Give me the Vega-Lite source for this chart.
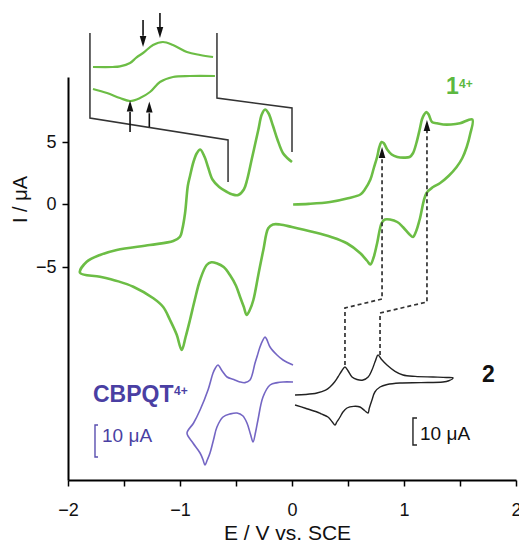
{
"$schema": "https://vega.github.io/schema/vega-lite/v6.json",
"width": 448, "height": 403,
"autosize": {"type": "none"},
"padding": {"left": 68, "top": 77, "right": 3, "bottom": 64},
"background": "white",
"config": {"view": {"stroke": null}, "font": "Liberation Sans"},
"datasets": {
"curves": [
{"s":"main","o":1,"E":0.0,"I":3.4},{"s":"main","o":2,"E":-0.04,"I":3.7},{"s":"main","o":3,"E":-0.08,"I":4.1},{"s":"main","o":4,"E":-0.13,"I":5.2},{"s":"main","o":5,"E":-0.17,"I":6.3},{"s":"main","o":6,"E":-0.21,"I":7.3},{"s":"main","o":7,"E":-0.24,"I":7.6},{"s":"main","o":8,"E":-0.27,"I":7.2},{"s":"main","o":9,"E":-0.30,"I":6.0},{"s":"main","o":10,"E":-0.33,"I":4.8},{"s":"main","o":11,"E":-0.36,"I":3.6},{"s":"main","o":12,"E":-0.40,"I":2.0},{"s":"main","o":13,"E":-0.43,"I":1.2},{"s":"main","o":14,"E":-0.48,"I":0.76},{"s":"main","o":15,"E":-0.53,"I":0.8},{"s":"main","o":16,"E":-0.58,"I":1.0},{"s":"main","o":17,"E":-0.65,"I":1.4},{"s":"main","o":18,"E":-0.71,"I":2.0},{"s":"main","o":19,"E":-0.75,"I":3.0},{"s":"main","o":20,"E":-0.78,"I":3.8},{"s":"main","o":21,"E":-0.82,"I":4.4},{"s":"main","o":22,"E":-0.85,"I":4.1},{"s":"main","o":23,"E":-0.88,"I":3.4},{"s":"main","o":24,"E":-0.91,"I":2.3},{"s":"main","o":25,"E":-0.93,"I":1.5},{"s":"main","o":26,"E":-0.955,"I":-0.7},{"s":"main","o":27,"E":-0.98,"I":-2.0},{"s":"main","o":28,"E":-1.0,"I":-2.58},{"s":"main","o":29,"E":-1.06,"I":-2.92},{"s":"main","o":30,"E":-1.27,"I":-3.24},{"s":"main","o":31,"E":-1.565,"I":-3.64},{"s":"main","o":32,"E":-1.714,"I":-4.04},{"s":"main","o":33,"E":-1.833,"I":-4.58},{"s":"main","o":34,"E":-1.893,"I":-5.46},{"s":"main","o":35,"E":-1.714,"I":-5.78},{"s":"main","o":36,"E":-1.55,"I":-6.15},{"s":"main","o":37,"E":-1.417,"I":-6.58},{"s":"main","o":38,"E":-1.238,"I":-7.5},{"s":"main","o":39,"E":-1.15,"I":-8.2},{"s":"main","o":40,"E":-1.089,"I":-9.24},{"s":"main","o":41,"E":-1.03,"I":-10.4},{"s":"main","o":42,"E":-0.985,"I":-11.64},{"s":"main","o":43,"E":-0.95,"I":-10.6},{"s":"main","o":44,"E":-0.911,"I":-9.24},{"s":"main","o":45,"E":-0.87,"I":-7.7},{"s":"main","o":46,"E":-0.821,"I":-6.04},{"s":"main","o":47,"E":-0.762,"I":-4.84},{"s":"main","o":48,"E":-0.72,"I":-4.62},{"s":"main","o":49,"E":-0.673,"I":-4.7},{"s":"main","o":50,"E":-0.61,"I":-5.0},{"s":"main","o":51,"E":-0.554,"I":-5.64},{"s":"main","o":52,"E":-0.50,"I":-6.5},{"s":"main","o":53,"E":-0.464,"I":-7.38},{"s":"main","o":54,"E":-0.43,"I":-8.2},{"s":"main","o":55,"E":-0.405,"I":-8.84},{"s":"main","o":56,"E":-0.375,"I":-8.4},{"s":"main","o":57,"E":-0.345,"I":-7.64},{"s":"main","o":58,"E":-0.30,"I":-5.6},{"s":"main","o":59,"E":-0.256,"I":-3.64},{"s":"main","o":60,"E":-0.212,"I":-1.9},{"s":"main","o":61,"E":-0.17,"I":-1.6},{"s":"main","o":62,"E":-0.107,"I":-1.6},{"s":"main","o":63,"E":0.0,"I":-1.8},{"s":"main","o":64,"E":0.19,"I":-2.2},{"s":"main","o":65,"E":0.35,"I":-2.6},{"s":"main","o":66,"E":0.49,"I":-3.1},{"s":"main","o":67,"E":0.61,"I":-3.9},{"s":"main","o":68,"E":0.67,"I":-4.5},{"s":"main","o":69,"E":0.70,"I":-4.8},{"s":"main","o":70,"E":0.73,"I":-4.2},{"s":"main","o":71,"E":0.76,"I":-3.1},{"s":"main","o":72,"E":0.80,"I":-1.5},{"s":"main","o":73,"E":0.83,"I":-1.2},{"s":"main","o":74,"E":0.875,"I":-1.2},{"s":"main","o":75,"E":0.94,"I":-1.4},{"s":"main","o":76,"E":0.99,"I":-1.8},{"s":"main","o":77,"E":1.05,"I":-2.4},{"s":"main","o":78,"E":1.08,"I":-2.6},{"s":"main","o":79,"E":1.11,"I":-2.1},{"s":"main","o":80,"E":1.14,"I":-1.2},{"s":"main","o":81,"E":1.20,"I":0.9},{"s":"main","o":82,"E":1.26,"I":1.4},{"s":"main","o":83,"E":1.32,"I":1.7},{"s":"main","o":84,"E":1.40,"I":2.3},{"s":"main","o":85,"E":1.47,"I":3.0},{"s":"main","o":86,"E":1.52,"I":3.7},{"s":"main","o":87,"E":1.56,"I":4.6},{"s":"main","o":88,"E":1.59,"I":5.6},{"s":"main","o":89,"E":1.61,"I":6.8},{"s":"main","o":90,"E":1.50,"I":6.5},{"s":"main","o":91,"E":1.42,"I":6.4},{"s":"main","o":92,"E":1.35,"I":6.4},{"s":"main","o":93,"E":1.29,"I":6.5},{"s":"main","o":94,"E":1.25,"I":6.6},{"s":"main","o":95,"E":1.22,"I":7.2},{"s":"main","o":96,"E":1.20,"I":7.4},{"s":"main","o":97,"E":1.18,"I":7.2},{"s":"main","o":98,"E":1.16,"I":6.8},{"s":"main","o":99,"E":1.14,"I":6.0},{"s":"main","o":100,"E":1.11,"I":4.9},{"s":"main","o":101,"E":1.08,"I":4.1},{"s":"main","o":102,"E":1.05,"I":3.8},{"s":"main","o":103,"E":1.00,"I":3.75},{"s":"main","o":104,"E":0.94,"I":3.8},{"s":"main","o":105,"E":0.89,"I":4.0},{"s":"main","o":106,"E":0.85,"I":4.4},{"s":"main","o":107,"E":0.82,"I":4.9},{"s":"main","o":108,"E":0.80,"I":5.0},{"s":"main","o":109,"E":0.78,"I":4.6},{"s":"main","o":110,"E":0.76,"I":3.8},{"s":"main","o":111,"E":0.73,"I":2.9},{"s":"main","o":112,"E":0.70,"I":2.0},{"s":"main","o":113,"E":0.65,"I":1.2},{"s":"main","o":114,"E":0.61,"I":0.8},{"s":"main","o":115,"E":0.50,"I":0.5},{"s":"main","o":116,"E":0.34,"I":0.2},{"s":"main","o":117,"E":0.15,"I":0.05},{"s":"main","o":118,"E":0.01,"I":0.0},
{"s":"inU","o":1,"E":-1.777,"I":11.0},{"s":"inU","o":2,"E":-1.60,"I":11.0},{"s":"inU","o":3,"E":-1.536,"I":11.05},{"s":"inU","o":4,"E":-1.446,"I":11.32},{"s":"inU","o":5,"E":-1.39,"I":11.75},{"s":"inU","o":6,"E":-1.33,"I":12.12},{"s":"inU","o":7,"E":-1.241,"I":12.76},{"s":"inU","o":8,"E":-1.152,"I":13.0},{"s":"inU","o":9,"E":-1.063,"I":12.76},{"s":"inU","o":10,"E":-0.938,"I":12.2},{"s":"inU","o":11,"E":-0.821,"I":11.96},{"s":"inU","o":12,"E":-0.705,"I":11.8},
{"s":"inL","o":1,"E":-1.777,"I":9.24},{"s":"inL","o":2,"E":-1.652,"I":8.92},{"s":"inL","o":3,"E":-1.536,"I":8.52},{"s":"inL","o":4,"E":-1.446,"I":8.28},{"s":"inL","o":5,"E":-1.357,"I":8.52},{"s":"inL","o":6,"E":-1.268,"I":9.0},{"s":"inL","o":7,"E":-1.179,"I":9.8},{"s":"inL","o":8,"E":-1.063,"I":10.2},{"s":"inL","o":9,"E":-0.911,"I":10.28},{"s":"inL","o":10,"E":-0.688,"I":10.28},
{"s":"cb","o":1,"E":0.009,"I":-12.84},{"s":"cb","o":2,"E":-0.08,"I":-12.44},{"s":"cb","o":3,"E":-0.134,"I":-12.04},{"s":"cb","o":4,"E":-0.196,"I":-11.4},{"s":"cb","o":5,"E":-0.225,"I":-10.8},{"s":"cb","o":6,"E":-0.241,"I":-10.6},{"s":"cb","o":7,"E":-0.26,"I":-10.85},{"s":"cb","o":8,"E":-0.286,"I":-11.4},{"s":"cb","o":9,"E":-0.31,"I":-12.1},{"s":"cb","o":10,"E":-0.33,"I":-12.68},{"s":"cb","o":11,"E":-0.375,"I":-14.04},{"s":"cb","o":12,"E":-0.42,"I":-14.25},{"s":"cb","o":13,"E":-0.464,"I":-14.2},{"s":"cb","o":14,"E":-0.52,"I":-14.0},{"s":"cb","o":15,"E":-0.58,"I":-13.8},{"s":"cb","o":16,"E":-0.625,"I":-13.3},{"s":"cb","o":17,"E":-0.661,"I":-12.84},{"s":"cb","o":18,"E":-0.685,"I":-13.1},{"s":"cb","o":19,"E":-0.705,"I":-13.48},{"s":"cb","o":20,"E":-0.75,"I":-14.84},{"s":"cb","o":21,"E":-0.821,"I":-16.44},{"s":"cb","o":22,"E":-0.88,"I":-17.5},{"s":"cb","o":23,"E":-0.9375,"I":-18.28},{"s":"cb","o":24,"E":-0.884,"I":-19.08},{"s":"cb","o":25,"E":-0.821,"I":-19.88},{"s":"cb","o":26,"E":-0.795,"I":-20.4},{"s":"cb","o":27,"E":-0.777,"I":-20.84},{"s":"cb","o":28,"E":-0.755,"I":-20.4},{"s":"cb","o":29,"E":-0.732,"I":-19.88},{"s":"cb","o":30,"E":-0.70,"I":-18.8},{"s":"cb","o":31,"E":-0.67,"I":-17.8},{"s":"cb","o":32,"E":-0.616,"I":-17.0},{"s":"cb","o":33,"E":-0.55,"I":-16.75},{"s":"cb","o":34,"E":-0.491,"I":-16.68},{"s":"cb","o":35,"E":-0.44,"I":-16.9},{"s":"cb","o":36,"E":-0.402,"I":-17.48},{"s":"cb","o":37,"E":-0.37,"I":-18.4},{"s":"cb","o":38,"E":-0.348,"I":-19.0},{"s":"cb","o":39,"E":-0.325,"I":-18.2},{"s":"cb","o":40,"E":-0.304,"I":-17.24},{"s":"cb","o":41,"E":-0.259,"I":-15.4},{"s":"cb","o":42,"E":-0.196,"I":-14.44},{"s":"cb","o":43,"E":-0.13,"I":-14.25},{"s":"cb","o":44,"E":-0.08,"I":-14.2},{"s":"cb","o":45,"E":0.009,"I":-14.2},
{"s":"c2","o":1,"E":0.027,"I":-15.24},{"s":"c2","o":2,"E":0.12,"I":-15.2},{"s":"c2","o":3,"E":0.223,"I":-15.08},{"s":"c2","o":4,"E":0.30,"I":-14.85},{"s":"c2","o":5,"E":0.339,"I":-14.6},{"s":"c2","o":6,"E":0.38,"I":-14.2},{"s":"c2","o":7,"E":0.41,"I":-13.8},{"s":"c2","o":8,"E":0.445,"I":-13.3},{"s":"c2","o":9,"E":0.473,"I":-13.0},{"s":"c2","o":10,"E":0.50,"I":-13.3},{"s":"c2","o":11,"E":0.536,"I":-13.8},{"s":"c2","o":12,"E":0.58,"I":-14.0},{"s":"c2","o":13,"E":0.634,"I":-14.04},{"s":"c2","o":14,"E":0.68,"I":-13.8},{"s":"c2","o":15,"E":0.714,"I":-13.24},{"s":"c2","o":16,"E":0.745,"I":-12.5},{"s":"c2","o":17,"E":0.768,"I":-12.04},{"s":"c2","o":18,"E":0.80,"I":-12.4},{"s":"c2","o":19,"E":0.848,"I":-12.84},{"s":"c2","o":20,"E":0.92,"I":-13.35},{"s":"c2","o":21,"E":0.991,"I":-13.64},{"s":"c2","o":22,"E":1.10,"I":-13.75},{"s":"c2","o":23,"E":1.259,"I":-13.8},{"s":"c2","o":24,"E":1.38,"I":-13.84},{"s":"c2","o":25,"E":1.438,"I":-13.88},{"s":"c2","o":26,"E":1.40,"I":-14.1},{"s":"c2","o":27,"E":1.348,"I":-14.2},{"s":"c2","o":28,"E":1.15,"I":-14.25},{"s":"c2","o":29,"E":0.964,"I":-14.28},{"s":"c2","o":30,"E":0.85,"I":-14.4},{"s":"c2","o":31,"E":0.786,"I":-14.6},{"s":"c2","o":32,"E":0.74,"I":-15.0},{"s":"c2","o":33,"E":0.714,"I":-15.64},{"s":"c2","o":34,"E":0.69,"I":-16.3},{"s":"c2","o":35,"E":0.679,"I":-16.68},{"s":"c2","o":36,"E":0.65,"I":-16.5},{"s":"c2","o":37,"E":0.607,"I":-16.2},{"s":"c2","o":38,"E":0.55,"I":-16.15},{"s":"c2","o":39,"E":0.491,"I":-16.28},{"s":"c2","o":40,"E":0.455,"I":-16.6},{"s":"c2","o":41,"E":0.429,"I":-17.0},{"s":"c2","o":42,"E":0.40,"I":-17.4},{"s":"c2","o":43,"E":0.384,"I":-17.64},{"s":"c2","o":44,"E":0.36,"I":-17.4},{"s":"c2","o":45,"E":0.321,"I":-17.0},{"s":"c2","o":46,"E":0.26,"I":-16.75},{"s":"c2","o":47,"E":0.223,"I":-16.6},{"s":"c2","o":48,"E":0.12,"I":-16.3},{"s":"c2","o":49,"E":0.027,"I":-16.04},
{"s":"boxL","o":1,"E":-1.804,"I":13.72},{"s":"boxL","o":2,"E":-1.804,"I":6.92},{"s":"boxL","o":3,"E":-0.571,"I":5.16},{"s":"boxL","o":4,"E":-0.571,"I":1.8},
{"s":"boxR","o":1,"E":-0.67,"I":13.72},{"s":"boxR","o":2,"E":-0.67,"I":8.52},{"s":"boxR","o":3,"E":0.0,"I":7.72},{"s":"boxR","o":4,"E":0.0,"I":4.2},
{"s":"dA","o":1,"E":0.473,"I":-12.84},{"s":"dA","o":2,"E":0.473,"I":-8.28},{"s":"dA","o":3,"E":0.804,"I":-7.56},{"s":"dA","o":4,"E":0.804,"I":3.72},
{"s":"dB","o":1,"E":0.786,"I":-12.04},{"s":"dB","o":2,"E":0.786,"I":-8.68},{"s":"dB","o":3,"E":1.205,"I":-7.8},{"s":"dB","o":4,"E":1.205,"I":5.88},
{"s":"a1","o":1,"E":-1.33,"I":14.76},{"s":"a1","o":2,"E":-1.33,"I":13.5},
{"s":"a2","o":1,"E":-1.179,"I":15.32},{"s":"a2","o":2,"E":-1.179,"I":14.2},
{"s":"a3","o":1,"E":-1.446,"I":5.8},{"s":"a3","o":2,"E":-1.446,"I":7.4},
{"s":"a4","o":1,"E":-1.274,"I":6.2},{"s":"a4","o":2,"E":-1.274,"I":7.3},
{"s":"bP","o":1,"E":-1.732,"I":-17.64},{"s":"bP","o":2,"E":-1.759,"I":-17.64},{"s":"bP","o":3,"E":-1.759,"I":-20.2},{"s":"bP","o":4,"E":-1.732,"I":-20.2},
{"s":"bK","o":1,"E":1.116,"I":-17.08},{"s":"bK","o":2,"E":1.08,"I":-17.08},{"s":"bK","o":3,"E":1.08,"I":-19.24},{"s":"bK","o":4,"E":1.116,"I":-19.24}
],
"heads": [
{"dir":"up","E":0.804,"I":4.16},{"dir":"up","E":1.205,"I":6.32},{"dir":"up","E":-1.446,"I":7.88},{"dir":"up","E":-1.274,"I":7.8},
{"dir":"down","E":-1.33,"I":13.04},{"dir":"down","E":-1.179,"I":13.76}
],
"labels": [
{"kind":"name","s":"one","t":"1","E":1.375,"I":8.84},
{"kind":"name","s":"two","t":"2","E":1.696,"I":-14.2},
{"kind":"name","s":"cbpqt","t":"CBPQT","E":-1.777,"I":-15.8},
{"kind":"sup","s":"one","t":"4+","E":1.491,"I":9.32},
{"kind":"sup","s":"cbpqt","t":"4+","E":-1.054,"I":-15.24},
{"kind":"scale","s":"cbpqt","t":"10 μA","E":-1.696,"I":-19.0},
{"kind":"scale","s":"two","t":"10 μA","E":1.143,"I":-18.84}
]
},
"encoding": {
"x": {"field":"E","type":"quantitative","scale":{"domain":[-2,2],"nice":false,"zero":false},
"axis":{"title":"E / V vs. SCE","values":[-2,-1.5,-1,-0.5,0,0.5,1,1.5,2],"labelExpr":"datum.value % 1 == 0 ? format(datum.value, 'd') : ''","grid":false,"domainColor":"#000","domainWidth":2,"tickColor":"#000","tickWidth":1.5,"tickSize":6,"labelFontSize":18,"labelColor":"#111","labelPadding":15,"labelFlush":false,"labelOverlap":false,"labelBound":false,"titleFontSize":21,"titleFontWeight":"normal","titleColor":"#111","titleX":219,"titleY":59,"titleBaseline":"alphabetic","titleAlign":"center"}},
"y": {"field":"I","type":"quantitative","scale":{"domain":[-22.04,10.2],"nice":false,"zero":false},
"axis":{"title":"I / μA","values":[-5,0,5],"grid":false,"domainColor":"#000","domainWidth":2,"tickColor":"#000","tickWidth":1.5,"tickSize":6,"labelFontSize":18,"labelColor":"#111","labelPadding":6,"labelOverlap":false,"titleFontSize":20,"titleFontWeight":"normal","titleColor":"#111","titleX":-48,"titleY":122,"titleAngle":-90,"titleBaseline":"middle","titleAlign":"center"}}
},
"layer": [
{"data":{"name":"curves"},"transform":[{"filter":"datum.s=='boxL'||datum.s=='boxR'"}],"mark":{"type":"line","color":"#333","strokeWidth":1.5},"encoding":{"order":{"field":"o","type":"quantitative"},"detail":{"field":"s"}}},
{"data":{"name":"curves"},"transform":[{"filter":"datum.s=='main'"}],"mark":{"type":"line","color":"#6cbd45","strokeWidth":2.6,"interpolate":"catmull-rom"},"encoding":{"order":{"field":"o","type":"quantitative"}}},
{"data":{"name":"curves"},"transform":[{"filter":"datum.s=='inU'||datum.s=='inL'"}],"mark":{"type":"line","color":"#6cbd45","strokeWidth":2.2,"interpolate":"catmull-rom"},"encoding":{"order":{"field":"o","type":"quantitative"},"detail":{"field":"s"}}},
{"data":{"name":"curves"},"transform":[{"filter":"datum.s=='cb'"}],"mark":{"type":"line","color":"#7466c4","strokeWidth":1.6,"interpolate":"catmull-rom"},"encoding":{"order":{"field":"o","type":"quantitative"}}},
{"data":{"name":"curves"},"transform":[{"filter":"datum.s=='c2'"}],"mark":{"type":"line","color":"#222","strokeWidth":1.4,"interpolate":"catmull-rom"},"encoding":{"order":{"field":"o","type":"quantitative"}}},
{"data":{"name":"curves"},"transform":[{"filter":"datum.s=='dA'||datum.s=='dB'"}],"mark":{"type":"line","color":"#333","strokeWidth":1.7,"strokeDash":[4,3]},"encoding":{"order":{"field":"o","type":"quantitative"},"detail":{"field":"s"}}},
{"data":{"name":"curves"},"transform":[{"filter":"datum.s=='a1'||datum.s=='a2'||datum.s=='a3'||datum.s=='a4'"}],"mark":{"type":"line","color":"#111","strokeWidth":1.6},"encoding":{"order":{"field":"o","type":"quantitative"},"detail":{"field":"s"}}},
{"data":{"name":"curves"},"transform":[{"filter":"datum.s=='bP'"}],"mark":{"type":"line","color":"#5a4fb0","strokeWidth":1.4},"encoding":{"order":{"field":"o","type":"quantitative"}}},
{"data":{"name":"curves"},"transform":[{"filter":"datum.s=='bK'"}],"mark":{"type":"line","color":"#222","strokeWidth":1.4},"encoding":{"order":{"field":"o","type":"quantitative"}}},
{"data":{"name":"heads"},"transform":[{"filter":"datum.dir=='up'"}],"mark":{"type":"point","shape":"M0,-1L0.6,1L-0.6,1Z","filled":true,"size":121,"color":"#111","opacity":1}},
{"data":{"name":"heads"},"transform":[{"filter":"datum.dir=='down'"}],"mark":{"type":"point","shape":"M0,1L0.6,-1L-0.6,-1Z","filled":true,"size":121,"color":"#111","opacity":1}},
{"data":{"name":"labels"},"transform":[{"filter":"datum.kind=='name'"}],"mark":{"type":"text","align":"left","baseline":"alphabetic","fontWeight":"bold","fontSize":23,"font":"Liberation Sans"},"encoding":{"text":{"field":"t"},"color":{"field":"s","type":"nominal","scale":{"domain":["one","two","cbpqt"],"range":["#5cb840","#111111","#4a3fa3"]},"legend":null}}},
{"data":{"name":"labels"},"transform":[{"filter":"datum.kind=='sup'"}],"mark":{"type":"text","align":"left","baseline":"alphabetic","fontWeight":"bold","fontSize":12,"font":"Liberation Sans"},"encoding":{"text":{"field":"t"},"color":{"field":"s","type":"nominal","scale":{"domain":["one","two","cbpqt"],"range":["#5cb840","#111111","#4a3fa3"]},"legend":null}}},
{"data":{"name":"labels"},"transform":[{"filter":"datum.kind=='scale'"}],"mark":{"type":"text","align":"left","baseline":"alphabetic","fontSize":19,"font":"Liberation Sans"},"encoding":{"text":{"field":"t"},"color":{"field":"s","type":"nominal","scale":{"domain":["one","two","cbpqt"],"range":["#5cb840","#111111","#4a3fa3"]},"legend":null}}}
]
}
